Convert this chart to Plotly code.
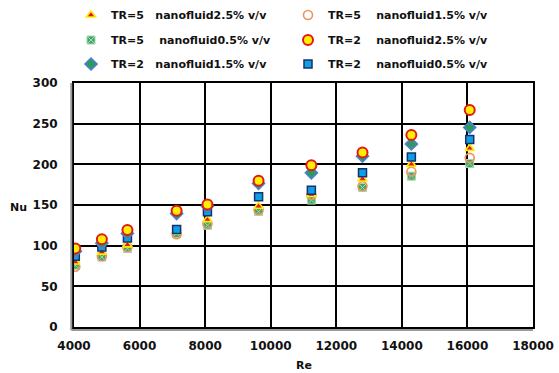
import plotly.graph_objects as go

# Reynolds numbers of the test runs
re_vals = [4040, 4850, 5630, 7130, 8070, 9630, 11240, 12800, 14290, 16070]

# Nusselt numbers per twist ratio / nanofluid concentration
nu_tr5_25 = [80, 92, 101, 117, 132, 148.5, 163, 182, 200, 219.6]
nu_tr5_15 = [74, 87, 98, 114, 127, 144, 162, 173, 191, 208]
nu_tr5_05 = [76, 86, 96.5, 115, 125, 142, 156, 171.5, 185.5, 201]
nu_tr2_25 = [96.5, 108, 119.4, 142.8, 150.6, 179.7, 199, 214.6, 236, 266.7]
nu_tr2_15 = [93, 103, 115, 139.5, 148.5, 176.5, 189.6, 210, 225, 245.4]
nu_tr2_05 = [87, 98.5, 109.5, 120, 141.6, 160, 168, 189.5, 209, 230.6]

NB = "\u00a0"
names = {
    "tr5_25": "TR=5" + NB * 3 + "nanofluid2.5% v/v",
    "tr5_15": "TR=5" + NB * 4 + "nanofluid1.5% v/v",
    "tr5_05": "TR=5" + NB * 4 + "nanofluid0.5% v/v",
    "tr2_25": "TR=2" + NB * 4 + "nanofluid2.5% v/v",
    "tr2_15": "TR=2" + NB * 3 + "nanofluid1.5% v/v",
    "tr2_05": "TR=2" + NB * 4 + "nanofluid0.5% v/v",
}

fig = go.Figure()

# drawn bottom-to-top; each legend row is its own legend box
series = [
    ("tr5_05", nu_tr5_05, dict(symbol="square-x", size=8, color="#3ea866",
                               line=dict(color="#a9d6b4", width=1)), "legend2", 1),
    ("tr5_15", nu_tr5_15, dict(symbol="circle", size=9, color="rgba(255,255,255,0)",
                               line=dict(color="#f0905a", width=1.6)), "legend", 2),
    ("tr5_25", nu_tr5_25, dict(symbol="triangle-up", size=8, color="#e8141c",
                               line=dict(color="#ffea00", width=1.6)), "legend", 1),
    ("tr2_05", nu_tr2_05, dict(symbol="square", size=8, color="#0aa0e6",
                               line=dict(color="#1b2f6e", width=1.5)), "legend3", 2),
    ("tr2_15", nu_tr2_15, dict(symbol="diamond", size=9, color="#2e9a5a",
                               line=dict(color="#4a82c8", width=1.8)), "legend3", 1),
    ("tr2_25", nu_tr2_25, dict(symbol="circle", size=10, color="#ffee00",
                               line=dict(color="#e01818", width=2)), "legend2", 2),
]

for key, ys, marker, leg, rank in series:
    fig.add_trace(go.Scatter(
        x=re_vals, y=ys, mode="markers", name=names[key],
        marker=marker, legend=leg, legendrank=rank,
    ))

font_bold = "DejaVu Sans"

fig.update_xaxes(
    range=[4000, 18000], dtick=2000, tick0=4000, tickformat="d",
    showgrid=True, gridcolor="#000000", gridwidth=1.5,
    showline=True, linecolor="#000000", linewidth=2, mirror=True,
    ticks="", zeroline=False, ticklabelstandoff=7,
    tickfont=dict(family=font_bold, size=12, color="#111111", weight="bold"),
)
fig.update_yaxes(
    range=[0, 300], dtick=50, tick0=0,
    showgrid=True, gridcolor="#000000", gridwidth=1.5,
    showline=True, linecolor="#000000", linewidth=2, mirror=True,
    ticks="", zeroline=False, ticklabelstandoff=12,
    tickfont=dict(family=font_bold, size=12, color="#111111", weight="bold"),
)

# shadowed left and bottom axis edges
fig.add_shape(type="line", xref="paper", yref="paper", x0=-0.006, x1=-0.006, y0=-0.012, y1=1,
              line=dict(color="#9a9a9a", width=2))
fig.add_shape(type="line", xref="paper", yref="paper", x0=-0.006, x1=1, y0=-0.012, y1=-0.012,
              line=dict(color="#9a9a9a", width=2))

fig.add_annotation(text="<b>Re</b>", xref="paper", yref="paper", x=0.5, y=(327 - 365) / 244,
                   showarrow=False, yanchor="middle",
                   font=dict(family=font_bold, size=11, color="#111111"))
fig.add_annotation(text="<b>Nu</b>", xref="paper", yref="paper", x=(18 - 74) / 459, y=0.49,
                   showarrow=False, xanchor="center",
                   font=dict(family=font_bold, size=11, color="#111111"))

legend_style = dict(
    orientation="h", xref="container", yref="container",
    x=71 / 559, xanchor="left", yanchor="middle",
    entrywidth=172, entrywidthmode="pixels",
    font=dict(family=font_bold, size=11, color="#111111", weight="bold"),
    bgcolor="rgba(0,0,0,0)",
)

fig.update_layout(
    width=559, height=373,
    margin=dict(l=74, r=26, t=83, b=46, autoexpand=False),
    paper_bgcolor="white", plot_bgcolor="white",
    legend=dict(legend_style, y=1 - 15 / 373),
    legend2=dict(legend_style, y=1 - 40 / 373),
    legend3=dict(legend_style, y=1 - 64 / 373),
)

fig.write_html("out.html")
